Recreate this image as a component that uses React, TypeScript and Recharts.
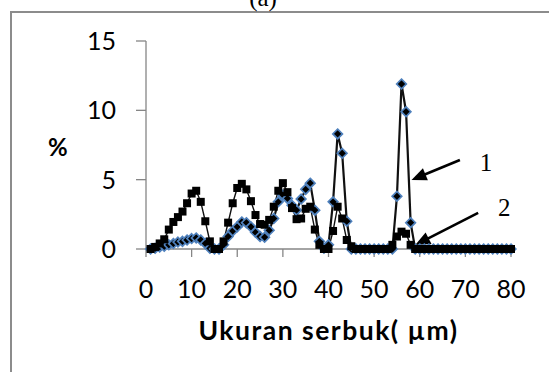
import React from 'react';
import { LineChart, Line, XAxis, YAxis, ReferenceLine, ReferenceDot, Label } from 'recharts';

// particle size (µm)
const sizes = [
  1, 2, 3, 4, 5, 6, 7, 8, 9, 10,
  11, 12, 13, 14, 15, 16, 17, 18, 19, 20,
  21, 22, 23, 24, 25, 26, 27, 28, 29, 30,
  31, 32, 33, 34, 35, 36, 37, 38, 39, 40,
  41, 42, 43, 44, 45, 46, 47, 48, 49, 50,
  51, 52, 53, 54, 55, 56, 57, 58, 59, 60,
  61, 62, 63, 64, 65, 66, 67, 68, 69, 70,
  71, 72, 73, 74, 75, 76, 77, 78, 79, 80,
];

// series 1 (diamonds)
const series1 = [
  0, 0.05, 0.15, 0.2, 0.3, 0.4, 0.5, 0.55, 0.65, 0.75,
  0.8, 0.65, 0.4, 0.05, 0, 0, 0.3, 0.9, 1.3, 1.6,
  1.95, 1.9, 1.6, 1.2, 0.9, 0.85, 1.35, 2.2, 3.4, 3.9,
  3.65, 3.15, 2.8, 3.6, 4.3, 4.75, 2.8, 0.55, 0.05, 0.3,
  3.4, 8.3, 6.9, 2.0, 0, 0, 0, 0, 0, 0,
  0, 0, 0, 0, 3.8, 11.9, 9.9, 1.9, 0, 0,
  0, 0, 0, 0, 0, 0, 0, 0, 0, 0,
  0, 0, 0, 0, 0, 0, 0, 0, 0, 0,
];

// series 2 (squares)
const series2 = [
  0, 0.15, 0.4, 0.7, 1.4, 1.95, 2.3, 2.7, 3.3, 4.0,
  4.2, 3.4, 2.0, 0.55, 0, 0, 0.55, 1.9, 3.3, 4.4,
  4.7, 4.3, 3.45, 2.45, 1.8, 1.75, 2.1, 3.05, 4.2, 4.75,
  4.1, 2.95, 2.15, 2.2, 2.9, 3.05, 1.4, 0.3, 0, 0,
  1.3, 3.05, 2.2, 0.65, 0.2, 0, 0, 0, 0, 0,
  0, 0, 0, 0.3, 0.9, 1.25, 1.1, 0.3, 0, 0,
  0, 0, 0, 0, 0, 0, 0, 0, 0, 0,
  0, 0, 0, 0, 0, 0, 0, 0, 0, 0,
];

const xTicks = [0, 10, 20, 30, 40, 50, 60, 70, 80];
const yTicks = [0, 5, 10, 15];

const data = sizes.map((x, i) => ({ x, s1: series1[i], s2: series2[i] }));

const AXIS = '#868686';

const SquareDot = (props: any) => {
  const { cx, cy, index } = props;
  if (cx == null || cy == null) return <g key={`sq-${index}`} />;
  return <rect key={`sq-${index}`} x={cx - 4} y={cy - 4} width={8} height={8} fill="#000" />;
};

const DiamondDot = (props: any) => {
  const { cx, cy, index } = props;
  if (cx == null || cy == null) return <g key={`dm-${index}`} />;
  const r = 4.8;
  return (
    <path
      key={`dm-${index}`}
      d={`M${cx},${cy - r}L${cx + r},${cy}L${cx},${cy + r}L${cx - r},${cy}Z`}
      fill="#000"
      stroke="#4F81BD"
      strokeWidth={1.7}
    />
  );
};

const ArrowShape = (props: any) => {
  const { x1, y1, x2, y2 } = props;
  if ([x1, y1, x2, y2].some((v) => v == null || isNaN(v))) return <g />;
  const dx = x2 - x1;
  const dy = y2 - y1;
  const len = Math.hypot(dx, dy) || 1;
  const ux = dx / len;
  const uy = dy / len;
  const hl = 15;
  const hw = 6.5;
  const bx = x2 - ux * hl;
  const by = y2 - uy * hl;
  const pts = `${x2},${y2} ${bx - uy * hw},${by + ux * hw} ${bx + uy * hw},${by - ux * hw}`;
  return (
    <g>
      <line x1={x1} y1={y1} x2={bx + ux * 2} y2={by + uy * 2} stroke="#000" strokeWidth={2.6} />
      <polygon points={pts} fill="#000" />
    </g>
  );
};

const numStyle = { fontFamily: '"Liberation Serif", serif', fontSize: 25, fill: '#000' };

export default function App() {
  return (
    <div style={{ position: 'absolute', left: 0, top: 0, width: 549, height: 372, overflow: 'hidden', background: '#fff' }}>
      <div
        style={{
          position: 'absolute',
          left: 10,
          top: 11,
          width: 560,
          height: 380,
          borderLeft: '2px solid #8c8c8c',
          borderTop: '2px solid #8c8c8c',
        }}
      />
      <svg style={{ position: 'absolute', left: 0, top: 0 }} width={549} height={30}>
        <text x={263} y={6} textAnchor="middle" style={{ fontFamily: '"Liberation Serif", serif', fontSize: 25 }}>
          (a)
        </text>
      </svg>
      <div style={{ position: 'absolute', left: 0, top: 0, fontFamily: 'Lato, sans-serif' }}>
        <LineChart width={549} height={372} data={data} margin={{ top: 41, right: 38, bottom: 93, left: 0 }}>
          <XAxis
            type="number"
            dataKey="x"
            domain={[0, 80]}
            ticks={xTicks}
            interval={0}
            tickSize={8}
            tickMargin={23}
            height={30}
            axisLine={{ stroke: AXIS, strokeWidth: 1.3 }}
            tickLine={{ stroke: AXIS, strokeWidth: 1.3 }}
            tick={{ fill: '#000', fontSize: 25, fontFamily: 'Lato, sans-serif' }}
          >
            <Label
              value="Ukuran serbuk( µm)"
              position="bottom"
              offset={42}
              style={{ fontFamily: 'Lato, sans-serif', fontWeight: 700, fontSize: 26.5, letterSpacing: 1.5, fill: '#000' }}
            />
          </XAxis>
          <YAxis
            type="number"
            domain={[0, 15]}
            ticks={yTicks}
            interval={0}
            width={146}
            tickSize={10}
            tickMargin={20}
            axisLine={{ stroke: AXIS, strokeWidth: 1.3 }}
            tickLine={{ stroke: AXIS, strokeWidth: 1.3 }}
            tick={{ fill: '#000', fontSize: 25, fontFamily: 'Lato, sans-serif' }}
          >
            <Label
              value="%"
              position="insideLeft"
              offset={48}
              dy={2}
              style={{ fontFamily: 'Lato, sans-serif', fontWeight: 700, fontSize: 24, fill: '#000' }}
            />
          </YAxis>
          <Line
            type="linear"
            dataKey="s1"
            stroke="#111"
            strokeWidth={2.2}
            dot={DiamondDot}
            activeDot={false}
            isAnimationActive={false}
          />
          <Line
            type="linear"
            dataKey="s2"
            stroke="#111"
            strokeWidth={1.4}
            dot={SquareDot}
            activeDot={false}
            isAnimationActive={false}
          />
          <ReferenceLine
            segment={[{ x: 68.8, y: 6.42 }, { x: 58.2, y: 4.98 }]}
            shape={ArrowShape}
            stroke="#000"
          />
          <ReferenceLine
            segment={[{ x: 72.8, y: 2.6 }, { x: 59.0, y: 0.29 }]}
            shape={ArrowShape}
            stroke="#000"
          />
          <ReferenceDot x={74.5} y={6.3} r={1} fill="none" stroke="none">
            <Label value="1" position="center" style={numStyle} />
          </ReferenceDot>
          <ReferenceDot x={78.5} y={3.0} r={1} fill="none" stroke="none">
            <Label value="2" position="center" style={numStyle} />
          </ReferenceDot>
        </LineChart>
      </div>
    </div>
  );
}
